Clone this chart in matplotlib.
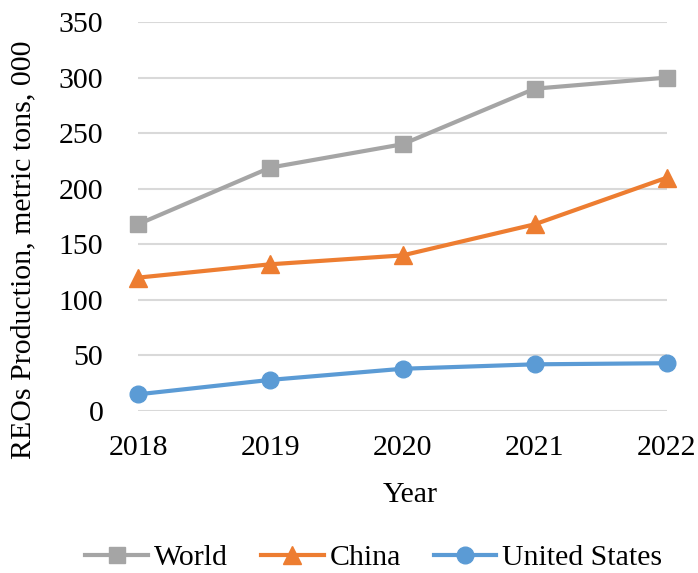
import matplotlib
matplotlib.use("Agg")
import matplotlib.pyplot as plt

years = [2018, 2019, 2020, 2021, 2022]
world = [168, 219, 240, 290, 300]
china = [120, 132, 140, 168, 210]
united_states = [15, 28, 38, 42, 43]
y_ticks = [0, 50, 100, 150, 200, 250, 300, 350]

plt.rcParams["font.family"] = ["Liberation Serif", "DejaVu Serif"]
FS = 21.5

W, H = 698, 573
fig = plt.figure(figsize=(W / 100, H / 100), dpi=100)
left, right, top, bottom = 138, 667, 22, 411
ax = fig.add_axes([left / W, 1 - bottom / H, (right - left) / W, (bottom - top) / H])

ax.plot(years, world, color="#A5A5A5", lw=3, marker="s", ms=11,
        label="World", clip_on=False, zorder=3)
ax.plot(years, china, color="#ED7D31", lw=3, marker="^", ms=13,
        label="China", clip_on=False, zorder=3)
ax.plot(years, united_states, color="#5B9BD5", lw=3, marker="o", ms=12,
        label="United States", clip_on=False, zorder=3)

ax.set_xlim(years[0], years[-1])
ax.set_ylim(0, 350)
ax.set_xticks(years)
ax.set_xticklabels([str(y) for y in years])
ax.set_yticks(y_ticks)
ax.grid(axis="y", color="#D9D9D9", lw=1.5)
ax.set_axisbelow(True)
for s in ax.spines.values():
    s.set_visible(False)
ax.tick_params(axis="both", length=0, labelsize=FS)
ax.tick_params(axis="y", pad=25)
ax.tick_params(axis="x", pad=17)

fig.text(23 / W, 1 - 250 / H, "REOs Production, metric tons, 000",
         rotation=90, ha="center", va="center", fontsize=FS)
fig.text(410 / W, 1 - 495 / H, "Year", ha="center", va="center", fontsize=FS)

fig.legend(loc="center", bbox_to_anchor=(374 / W, 1 - 558 / H), ncol=3,
           frameon=False, fontsize=FS, handlelength=2.1, handletextpad=0.2,
           columnspacing=1.1, borderaxespad=0, borderpad=0)

fig.savefig("out.png", dpi=100)
